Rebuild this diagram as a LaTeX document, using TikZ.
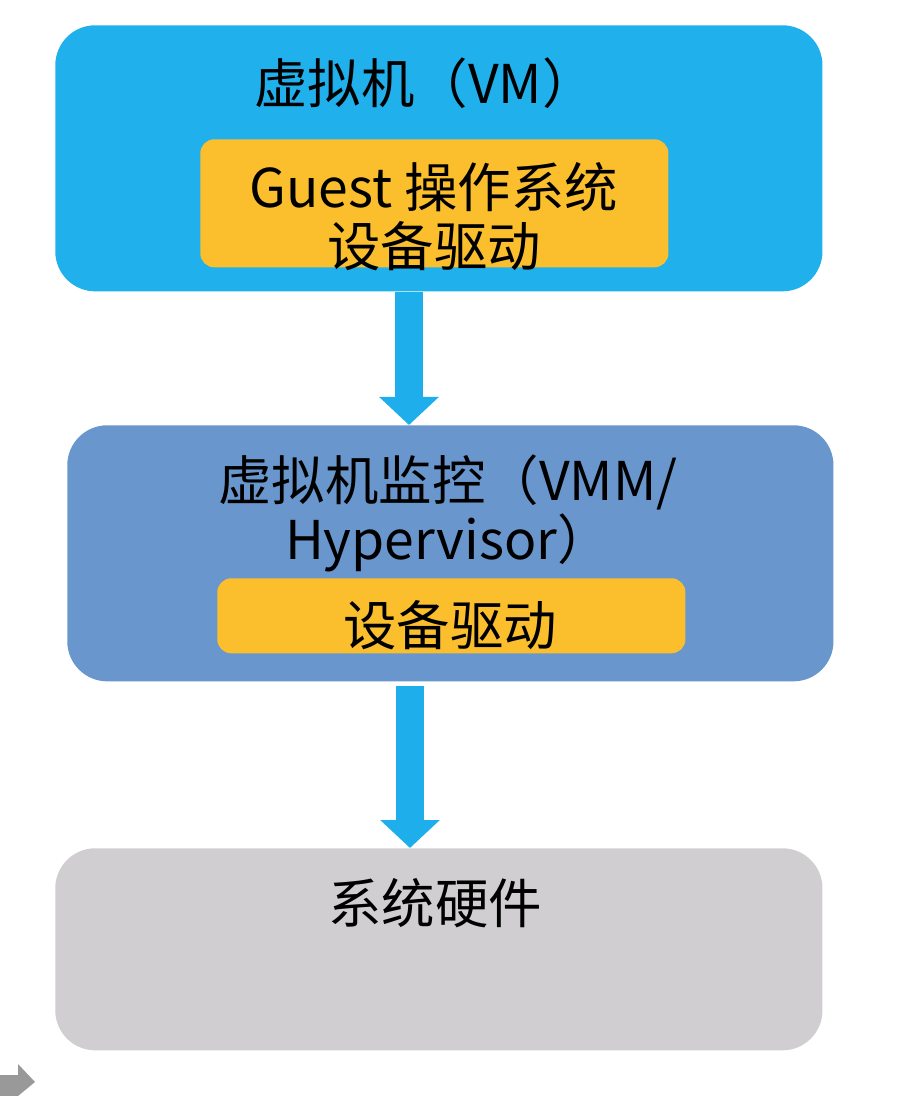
\documentclass[tikz,border=0pt]{standalone}
\usepackage{fontspec}
\setmainfont{Noto Sans CJK SC}
\usetikzlibrary{arrows.meta, positioning}
\definecolor{vmblue}{RGB}{32, 176, 236}
\definecolor{vmmblue}{RGB}{105, 150, 205}
\definecolor{drvorange}{RGB}{251, 190, 45}
\definecolor{hwgray}{RGB}{208, 206, 208}
\definecolor{flowblue}{RGB}{30, 174, 236}
\begin{document}
\begin{tikzpicture}[
        x=0.025cm, y=-0.025cm,
        layer/.style={rectangle, rounded corners=1cm, inner sep=0pt, anchor=north west},
        driver/.style={rectangle, rounded corners=0.35cm, inner sep=0pt, anchor=north west, fill=drvorange},
        label/.style={font=\fontsize{38}{42}\selectfont, align=center, inner sep=0pt},
        flow/.style={flowblue, line width=0.7cm, -{Triangle[width=1.45cm, length=0.7cm]}},
    ]
        \useasboundingbox (0,0) rectangle (896,1096);
        \node[layer, fill=vmblue, minimum width=19.175cm, minimum height=6.65cm] (vm) at (55,25) {};
        \node[driver, minimum width=11.7cm, minimum height=3.2cm] (vmdrv) at (200,139) {};
        \node[layer, fill=vmmblue, minimum width=19.15cm, minimum height=6.4cm] (vmm) at (67,425) {};
        \node[driver, minimum width=11.7cm, minimum height=1.875cm] (vmmdrv) at (217,578) {};
        \node[layer, fill=hwgray, minimum width=19.175cm, minimum height=5.05cm] (hw) at (55,848) {};

        \node[label] (vmtext) at (425,83) {虚拟机（VM）};
        \node[label] (guest) at (434,217) {Guest 操作系统\\设备驱动};
        \node[label] (vmmtext) at (448,513) {虚拟机监控（VMM/\\Hypervisor）};
        \node[label] (vmmdrvtext) at (450,625) {设备驱动};
        \node[label] (hwtext) at (435,903) {系统硬件};

        \draw[flow] (vm.south -| 409,0) -- (vmm.north -| 409,0);
        \draw[flow] ([yshift=-0.1cm]vmm.south -| 410,0) -- (hw.north -| 410,0);

        % small corner mark
        \fill[gray!80] (0,1075) -- (18,1075) -- (18,1064) -- (35,1082) -- (18,1096) -- (0,1096) -- cycle;
    \end{tikzpicture}
\end{document}
